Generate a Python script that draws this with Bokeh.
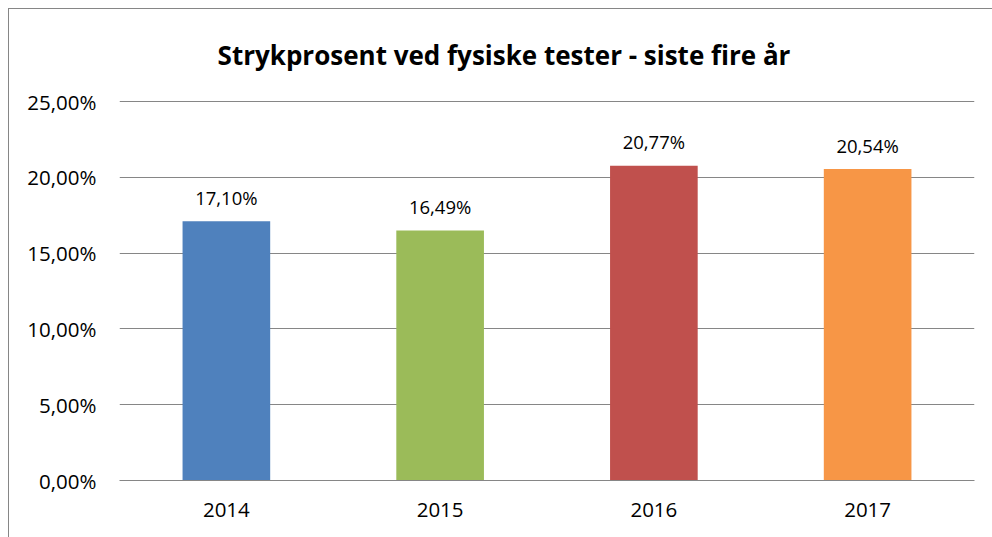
from bokeh.plotting import figure
from bokeh.models import (ColumnDataSource, FactorRange, Range1d, FixedTicker,
                          CustomJSTickFormatter, Label, InlineStyleSheet)
from bokeh.core.properties import value
from bokeh.embed import file_html
from bokeh.resources import INLINE

# ---- data ----
years = ["2014", "2015", "2016", "2017"]
fail_pct = [17.10, 16.49, 20.77, 20.54]
bar_colors = ["#4F81BD", "#9BBB59", "#C0504D", "#F79646"]
y_ticks = [0, 5, 10, 15, 20, 25]
title_text = "Strykprosent ved fysiske tester - siste fire år"

labels = [("%.2f" % v).replace(".", ",") + "%" for v in fail_pct]
src = ColumnDataSource(dict(x=years, y=fail_pct, c=bar_colors, lab=labels))

W, H = 992, 537
FL, FR, FT, FB = 119, 974, 12, 480    # frame edges in canvas pixels
TOP_TICK_Y = 101                        # canvas y of the 25 % gridline
Y_END = y_ticks[-1] * (FB - FT) / (FB - TOP_TICK_Y)

p = figure(x_range=FactorRange(factors=years, range_padding=0),
           y_range=Range1d(0, Y_END),
           width=W, height=H, output_backend="svg", toolbar_location=None,
           min_border_left=FL, min_border_right=W - FR, min_border_top=FT,
           min_border_bottom=H - FB)

p.vbar(x="x", top="y", width=0.41, fill_color="c", line_color=None, source=src)
p.text(x="x", y="y", text="lab", source=src, text_align="center",
       text_baseline="alphabetic", y_offset=-24,
       text_font=value("Open Sans"), text_font_size="18.5px", text_color="#000000")

# title (label coordinates are relative to the frame, origin bottom-left)
title = Label(x=503.5 - FL, y=FB - 54, x_units="screen", y_units="screen",
              text=title_text, text_align="center", text_baseline="alphabetic",
              text_font="Open Sans", text_font_style="bold",
              text_font_size="26px", text_color="#000000")
p.add_layout(title)

# axes
p.yaxis.ticker = FixedTicker(ticks=y_ticks)
p.yaxis.formatter = CustomJSTickFormatter(
    code="return tick.toFixed(2).replace('.', ',') + '%';")
p.yaxis.axis_line_color = None
p.yaxis.major_tick_line_color = None
p.yaxis.minor_tick_line_color = None
p.yaxis.major_tick_in = 0
p.yaxis.major_tick_out = 0
p.yaxis.major_label_standoff = 23
p.yaxis.major_label_text_font = "Open Sans"
p.yaxis.major_label_text_font_size = "20.5px"
p.yaxis.major_label_text_color = "#000000"

p.xaxis.axis_line_color = "#868686"
p.xaxis.major_tick_line_color = None
p.xaxis.minor_tick_line_color = None
p.xaxis.major_tick_in = 0
p.xaxis.major_tick_out = 0
p.xaxis.major_label_standoff = 22
p.xaxis.major_label_text_font = "Open Sans"
p.xaxis.major_label_text_font_size = "20.5px"
p.xaxis.major_label_text_color = "#000000"

p.xgrid.grid_line_color = None
p.ygrid.ticker = FixedTicker(ticks=y_ticks)
p.ygrid.grid_line_color = "#868686"
p.ygrid.grid_line_width = 1

p.outline_line_color = None
p.background_fill_color = "white"
p.border_fill_color = None

p.stylesheets = [InlineStyleSheet(css=(
    ":host { background:"
    " linear-gradient(#868686,#868686) 8px 8px / 1px 100% no-repeat,"
    " linear-gradient(#868686,#868686) 8px 8px / 100% 1px no-repeat,"
    " white; }"))]

open("out.html", "w").write(file_html(p, INLINE))
